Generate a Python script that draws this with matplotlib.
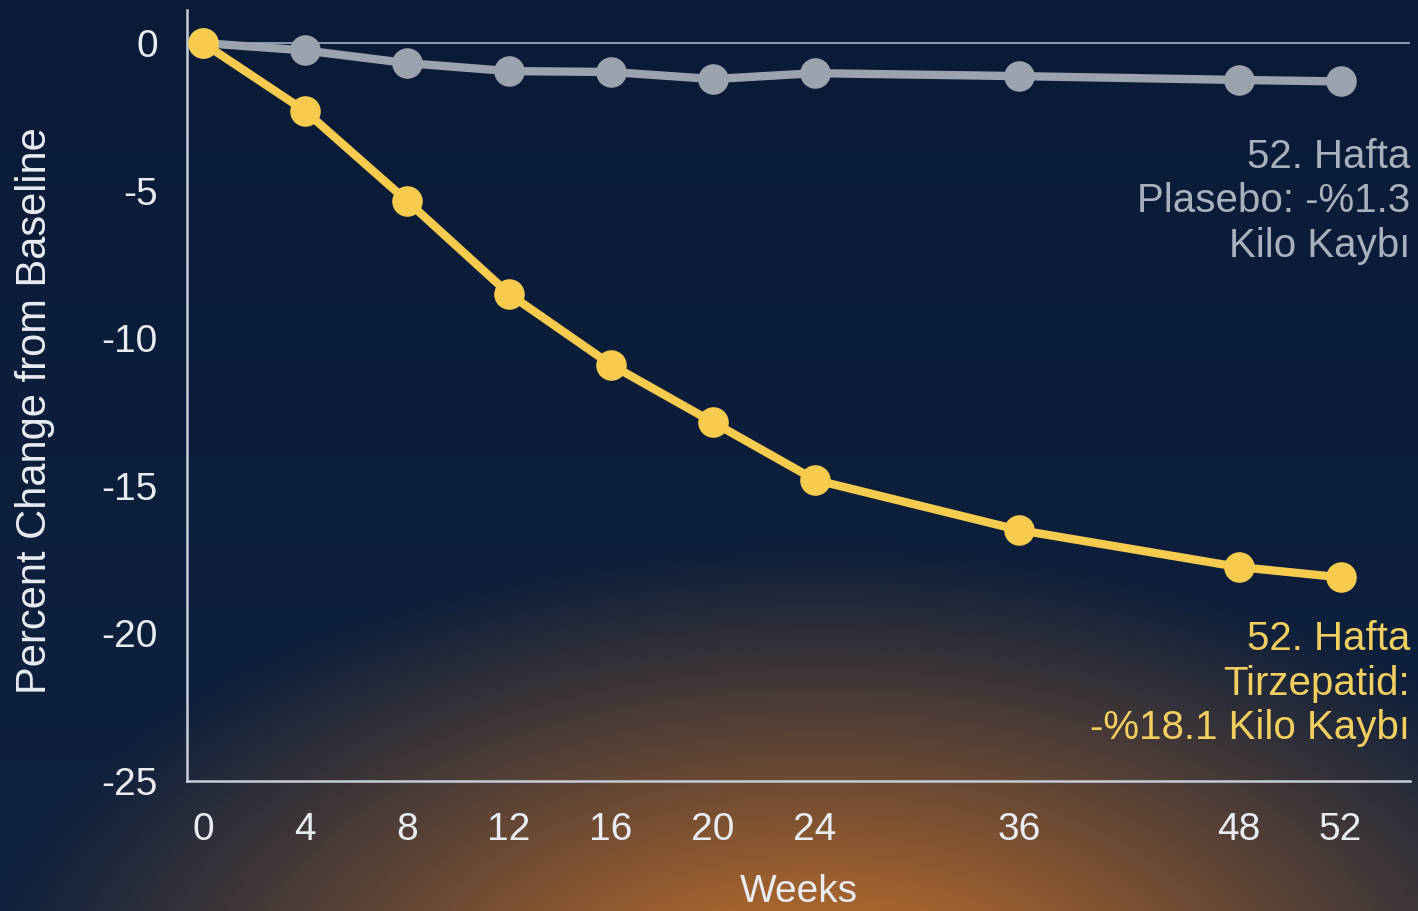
import numpy as np
import matplotlib
matplotlib.use("Agg")
import matplotlib.pyplot as plt

# haftalık kilo değişimi (%), SURMOUNT tipi sonuç grafiği
weeks = [0, 4, 8, 12, 16, 20, 24, 36, 48, 52]
tirzepatid = [0, -2.3, -5.35, -8.5, -10.9, -12.85, -14.8, -16.5, -17.75, -18.1]
plasebo = [0, -0.25, -0.68, -0.95, -0.98, -1.22, -1.02, -1.12, -1.25, -1.3]
y_ticks = [0, -5, -10, -15, -20, -25]

plasebo_note = "52. Hafta\nPlasebo: -%1.3\nKilo Kaybı"
tirz_note = "52. Hafta\nTirzepatid:\n-%18.1 Kilo Kaybı"

YELLOW = "#f6cb4e"
GRAY = "#9ba4ae"
TXT = "#e9ecf2"
FS = 28

plt.rcParams['font.family'] = ['Liberation Sans', 'DejaVu Sans']

# x ekseni: 24. haftadan sonra sıkıştırılmış parçalı doğrusal ölçek
knot_w = np.array([-4, 0, 24, 36, 48, 52, 64])
knot_p = np.array([-1, 0, 6, 8, 10.15, 11.15, 14.15])

def fwd(x):
    return np.interp(x, knot_w, knot_p)

def inv(p):
    return np.interp(p, knot_p, knot_w)


fig = plt.figure(figsize=(14.18, 9.11), dpi=100)

# arka plan: lacivert zemin, alt ortada turuncu parıltı
H, W = 911, 1418
yy, xx = np.mgrid[0:H, 0:W]
navy_top = np.array([9, 27, 55]) / 255
navy_bot = np.array([14, 33, 62]) / 255
t = (yy / H)[..., None]
bg = navy_top * (1 - t) + navy_bot * t
d = np.sqrt(((xx - 820) / 850.0) ** 2 + ((yy - 1010) / 470.0) ** 2)
glow = np.clip(1 - d, 0, 1) ** 1.1
orange = np.array([215, 122, 40]) / 255
bg = bg * (1 - glow[..., None]) + orange * glow[..., None]
ax_bg = fig.add_axes([0, 0, 1, 1], zorder=-5)
ax_bg.imshow(bg, aspect='auto', extent=[0, 1, 0, 1], origin='upper')
ax_bg.axis('off')

ax = fig.add_axes([187 / W, 1 - 781 / H, (1410 - 187) / W, (781 - 10) / H])
ax.set_facecolor('none')
ax.set_xscale('function', functions=(fwd, inv))
ax.set_xlim(inv(-0.157), inv(11.83))
ax.set_ylim(-25, 1.12)

ax.axhline(0, color="#8d9cb4", lw=1.4, zorder=1)

ax.plot(weeks, plasebo, color=GRAY, lw=6, marker='o', ms=21,
        solid_capstyle='round', zorder=3)
ax.plot(weeks, tirzepatid, color=YELLOW, lw=6, marker='o', ms=21,
        solid_capstyle='round', zorder=4)

ax.set_xticks(weeks)
ax.set_xticklabels([str(w) for w in weeks])
ax.set_yticks(y_ticks)
ax.set_yticklabels([str(v) for v in y_ticks])
ax.tick_params(length=0, labelsize=FS, colors=TXT)
ax.tick_params(axis='y', pad=21)
ax.tick_params(axis='x', pad=22)
ax.minorticks_off()

for s in ['top', 'right']:
    ax.spines[s].set_visible(False)
for s in ['left', 'bottom']:
    ax.spines[s].set_color("#c6cdd8")
    ax.spines[s].set_linewidth(1.8)

ax.set_xlabel("Weeks", fontsize=FS, color=TXT, labelpad=19)
ax.set_ylabel("Percent Change from Baseline", fontsize=FS + 2, color=TXT)
ax.yaxis.set_label_coords(-0.108, 0.48)

ax.text(1.0, plasebo[-1] - 1.9, plasebo_note, ha='right', va='top',
        fontsize=FS + 1, color="#a8b1bd", linespacing=1.22)
ax.text(1.0, tirzepatid[-1] - 1.45, tirz_note, ha='right', va='top',
        fontsize=FS + 1, color="#f3cf5f", linespacing=1.22)
for tx in ax.texts:
    tx.set_transform(ax.get_yaxis_transform())

fig.savefig("out.png", dpi=100)
